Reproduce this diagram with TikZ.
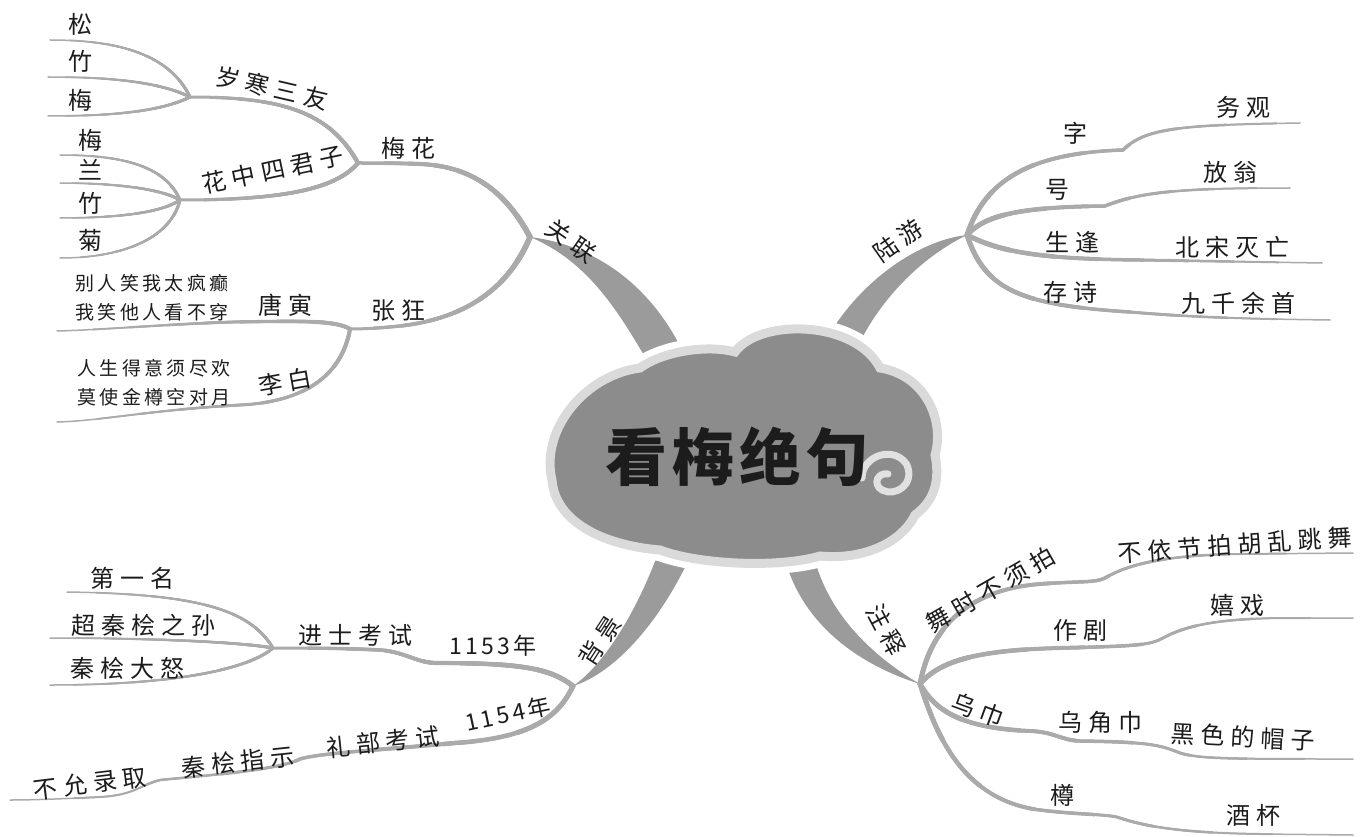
\documentclass[tikz,border=0pt]{standalone}
\usepackage{fontspec}
\newfontfamily\cjk[LetterSpace=25]{Noto Sans CJK SC}
\newfontfamily\cjkp[LetterSpace=18]{Noto Sans CJK SC}
\newfontfamily\cjkn[LetterSpace=14]{Noto Sans CJK SC}
\newfontfamily\cjkt[LetterSpace=8]{Noto Sans CJK SC}
\definecolor{lnc}{RGB}{170,170,170}
\definecolor{brc}{RGB}{155,155,155}
\definecolor{cloudfill}{RGB}{140,140,140}
\definecolor{cloudring}{RGB}{218,218,218}
\definecolor{curl}{RGB}{225,225,225}
\definecolor{txt}{RGB}{28,28,28}
% tapered line: #1 start width, #2 end width, #3 approx length, #4 path
\newcommand\tpline[4]{%
  \draw[ln,line width=#2 pt] #4;%
  \foreach \k in {1,...,7}{%
    \pgfmathsetmacro\tpwid{#2+(#1-#2)*\k/7}%
    \pgfmathsetmacro\tplen{#3*(1-\k/8)}%
    \draw[ln,line width=\tpwid pt,dash pattern=on \tplen pt off 10000pt] #4;%
  }%
}
\newcommand\cloudshape[1]{%
  \path[#1] (552,480) .. controls (540,430) and (585,375) .. (640,368)
    .. controls (665,350) and (710,345) .. (735,352)
    .. controls (760,318) and (855,320) .. (880,368)
    .. controls (925,375) and (945,420) .. (935,455)
    .. controls (940,480) and (935,500) .. (915,515)
    .. controls (900,545) and (860,560) .. (820,556)
    .. controls (780,568) and (700,565) .. (660,550)
    .. controls (600,545) and (555,520) .. (552,480) -- cycle;%
}
\begin{document}
\begin{tikzpicture}[x=1pt,y=-1pt,
  ln/.style={draw=lnc,line cap=round,line join=round},
  lbl/.style={font=\cjk\fontsize{24}{28}\selectfont,text=txt,inner sep=0pt},
  poem/.style={font=\cjkp\fontsize{19}{22}\selectfont,text=txt,inner sep=0pt},
  num/.style={font=\cjkn\fontsize{23}{27}\selectfont,text=txt,inner sep=0pt},
  ttl/.style={font=\cjkt\bfseries\fontsize{62}{70}\selectfont,text=txt,inner sep=0pt},
  br/.style={fill=brc}]
\fill[white] (0,0) rectangle (1362,837);
\useasboundingbox (0,0) rectangle (1362,837);

% ---------- junctions and ends ----------
\coordinate (J1) at (530,237);
\coordinate (M) at (358,163);
\coordinate (Z) at (350,329);
\coordinate (S) at (190,97);
\coordinate (H) at (180,200);
\coordinate (eSong) at (50,40);
\coordinate (eZhuA) at (48,77);
\coordinate (eMeiA) at (48,116);
\coordinate (eHa) at (60,155);
\coordinate (eHb) at (60,183);
\coordinate (eHc) at (60,218);
\coordinate (eHd) at (60,258);
\coordinate (eTang) at (57,331);
\coordinate (eLi) at (57,422);
\coordinate (J2) at (967,235);
\coordinate (eZi) at (1300,123);
\coordinate (eHao) at (1290,188);
\coordinate (eSheng) at (1322,263);
\coordinate (eCun) at (1330,320);
\coordinate (J3) at (573,686);
\coordinate (K) at (273,648);
\coordinate (eDiyi) at (67,592);
\coordinate (eChao) at (50,638);
\coordinate (eQin) at (50,685);
\coordinate (eBuyun) at (10,800);
\coordinate (J4) at (920,684);
\coordinate (eWu) at (1353,553);
\coordinate (eZuo) at (1353,618);
\coordinate (eWujin) at (1353,759);
\coordinate (eZun) at (1353,835);

% ---------- main tapered branches ----------
\fill[br] (J1) .. controls (595,245) and (650,285) .. (682,350) -- (648,362)
  .. controls (620,315) and (590,262) .. (J1) -- cycle;
\fill[br] (J2) .. controls (920,240) and (860,280) .. (826,340) -- (858,346)
  .. controls (880,300) and (920,258) .. (J2) -- cycle;
\fill[br] (J3) .. controls (600,668) and (635,618) .. (660,548) -- (694,548)
  .. controls (665,615) and (618,672) .. (J3) -- cycle;
\fill[br] (J4) .. controls (860,665) and (800,625) .. (783,552) -- (813,552)
  .. controls (825,610) and (870,655) .. (J4) -- cycle;

% ---------- 关联 ----------
\tpline{5.5}{3.5}{200}{(J1) .. controls (505,190) and (470,166) .. (420,164) .. controls (395,163) and (375,163) .. (M)}
\tpline{5.5}{3}{220}{(J1) .. controls (510,285) and (470,318) .. (400,326) .. controls (380,328) and (365,329) .. (Z)}
\tpline{4}{3}{190}{(M) .. controls (330,113) and (285,97) .. (S)}
\tpline{4}{3}{185}{(M) .. controls (335,190) and (280,200) .. (H)}
\tpline{3}{1.5}{160}{(S) .. controls (170,55) and (120,40) .. (eSong)}
\tpline{3}{1.5}{145}{(S) .. controls (160,82) and (110,77) .. (eZhuA)}
\tpline{3}{1.5}{145}{(S) .. controls (160,112) and (110,116) .. (eMeiA)}
\tpline{3}{1.5}{140}{(H) .. controls (165,165) and (120,155) .. (eHa)}
\tpline{3}{1.5}{125}{(H) .. controls (160,188) and (110,183) .. (eHb)}
\tpline{3}{1.5}{125}{(H) .. controls (160,214) and (110,218) .. (eHc)}
\tpline{3}{1.5}{140}{(H) .. controls (170,240) and (120,258) .. (eHd)}
\tpline{4}{1.5}{295}{(Z) .. controls (335,320) and (300,321) .. (233,322) .. controls (170,324) and (100,330) .. (eTang)}
\tpline{4}{1.5}{330}{(Z) .. controls (342,375) and (305,402) .. (240,405) .. controls (150,410) and (100,421) .. (eLi)}

% ---------- 陆游 ----------
\tpline{5}{1.5}{400}{(J2) .. controls (985,180) and (1030,153) .. (1123,150) .. controls (1145,128) and (1180,125) .. (eZi)}
\tpline{5}{1.5}{340}{(J2) .. controls (985,215) and (1020,207) .. (1105,206) .. controls (1140,192) and (1180,188) .. (eHao)}
\tpline{5}{1.5}{360}{(J2) .. controls (1000,252) and (1040,259) .. (1140,260) .. controls (1200,261) and (1260,262) .. (eSheng)}
\tpline{5}{1.5}{390}{(J2) .. controls (985,290) and (1020,305) .. (1130,312) .. controls (1200,318) and (1260,319) .. (eCun)}

% ---------- 背景 ----------
\tpline{5}{3}{310}{(J3) .. controls (550,668) and (520,663) .. (435,663) .. controls (415,662) and (405,652) .. (380,650) .. controls (340,648) and (300,648) .. (K)}
\tpline{5}{1.5}{600}{(J3) .. controls (558,718) and (530,738) .. (455,743) .. controls (380,750) and (320,753) .. (300,759) .. controls (280,770) and (200,776) .. (160,780) .. controls (140,785) and (135,795) .. (100,797) .. controls (60,799) and (30,800) .. (eBuyun)}
\tpline{3}{1.5}{220}{(K) .. controls (250,610) and (200,594) .. (eDiyi)}
\tpline{3}{1.5}{225}{(K) .. controls (240,642) and (150,638) .. (eChao)}
\tpline{3}{1.5}{235}{(K) .. controls (250,668) and (180,685) .. (eQin)}

% ---------- 注释 ----------
\tpline{5}{1.5}{480}{(J4) .. controls (930,630) and (965,590) .. (1040,584) .. controls (1080,581) and (1095,583) .. (1105,578) .. controls (1130,563) and (1170,555) .. (1240,554) -- (eWu)}
\tpline{5}{1.5}{460}{(J4) .. controls (940,660) and (980,650) .. (1060,648) .. controls (1140,646) and (1150,645) .. (1163,638) .. controls (1185,626) and (1215,619) .. (1280,618) -- (eZuo)}
\tpline{5}{1.5}{460}{(J4) .. controls (935,710) and (960,728) .. (1030,731) .. controls (1055,732) and (1060,740) .. (1080,741) .. controls (1150,742) and (1160,745) .. (1180,753) .. controls (1200,759) and (1230,759) .. (eWujin)}
\tpline{5}{1.5}{480}{(J4) .. controls (935,730) and (960,800) .. (1040,810) .. controls (1080,815) and (1110,814) .. (1120,818) .. controls (1150,828) and (1190,833) .. (1260,834) -- (eZun)}

% ---------- cloud ----------
\cloudshape{draw=white,line width=22}
\cloudshape{draw=cloudring,line width=9,fill=cloudfill}
\draw[curl,line width=7,line cap=round] (862,478) .. controls (862,455) and (895,445) .. (907,465)
  .. controls (915,485) and (895,497) .. (882,490) .. controls (872,484) and (878,472) .. (888,474);
\node[ttl] (title) at (737,457) {看梅绝句};

% ---------- labels: 关联 ----------
\node[lbl,rotate=-35] (lGuanlian) at (571,241) {关联};
\node[lbl] (lMeihua) at (408,148) {梅花};
\node[lbl,rotate=-13] (lSuihan) at (272,88) {岁寒三友};
\node[lbl,rotate=12] (lHuazhong) at (273,170) {花中四君子};
\node[lbl] (lSong) at (80,24) {松};
\node[lbl] (lZhuA) at (80,61) {竹};
\node[lbl] (lMeiA) at (80,100) {梅};
\node[lbl] (lMeiB) at (90,140) {梅};
\node[lbl] (lLan) at (90,170) {兰};
\node[lbl] (lZhuB) at (90,203) {竹};
\node[lbl] (lJu) at (90,240) {菊};
\node[lbl] (lZhangkuang) at (398,311) {张狂};
\node[lbl] (lTangyin) at (285,305) {唐寅};
\node[lbl,rotate=10] (lLibai) at (285,382) {李白};
\node[poem] (pA) at (152,283) {别人笑我太疯癫};
\node[poem] (pB) at (152,312) {我笑他人看不穿};
\node[poem] (pC) at (154,368) {人生得意须尽欢};
\node[poem] (pD) at (154,397) {莫使金樽空对月};

% ---------- labels: 陆游 ----------
\node[lbl,rotate=35] (lLuyou) at (898,241) {陆游};
\node[lbl] (lZi) at (1075,133) {字};
\node[lbl] (lWuguan) at (1243,107) {务观};
\node[lbl] (lHao) at (1057,190) {号};
\node[lbl] (lFangweng) at (1230,172) {放翁};
\node[lbl] (lShengfeng) at (1072,242) {生逢};
\node[lbl] (lBeisong) at (1232,247) {北宋灭亡};
\node[lbl] (lCunshi) at (1070,292) {存诗};
\node[lbl] (lJiuqian) at (1238,303) {九千余首};

% ---------- labels: 背景 ----------
\node[lbl,rotate=57] (lBeijing) at (600,641) {背景};
\node[num] (lY1153) at (493,646) {1153年};
\node[lbl] (lJinshi) at (355,635) {进士考试};
\node[lbl] (lDiyi) at (132,578) {第一名};
\node[lbl] (lChao) at (143,625) {超秦桧之孙};
\node[lbl] (lQinnu) at (127,668) {秦桧大怒};
\node[num,rotate=12] (lY1154) at (508,714) {1154年};
\node[lbl,rotate=6] (lLibu) at (383,742) {礼部考试};
\node[lbl,rotate=6] (lZhishi) at (238,762) {秦桧指示};
\node[lbl,rotate=7] (lBuyun) at (90,783) {不允录取};

% ---------- labels: 注释 ----------
\node[lbl,rotate=-62] (lZhushi) at (886,630) {注释};
\node[lbl,rotate=30] (lWushi) at (990,590) {舞时不须拍};
\node[lbl,rotate=4] (lBuyi) at (1235,545) {不依节拍胡乱跳舞};
\node[lbl] (lZuoju) at (1080,630) {作剧};
\node[lbl] (lXixi) at (1237,605) {嬉戏};
\node[lbl,rotate=-20] (lWujin) at (978,710) {乌巾};
\node[lbl] (lWujiao) at (1100,722) {乌角巾};
\node[lbl,rotate=-3] (lHeise) at (1243,737) {黑色的帽子};
\node[lbl] (lZun) at (1062,795) {樽};
\node[lbl] (lJiubei) at (1253,815) {酒杯};
\end{tikzpicture}
\end{document}
